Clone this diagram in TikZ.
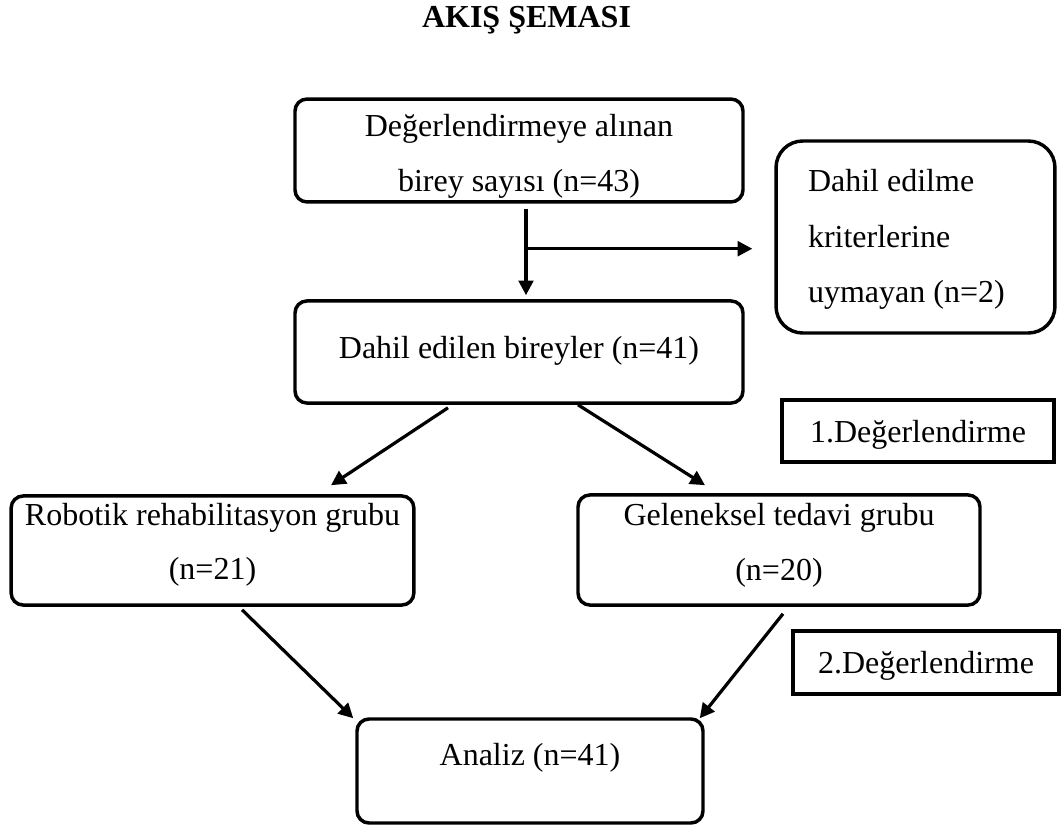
\documentclass[tikz,border=0pt]{standalone}
\usepackage{fontspec}
\setmainfont{Liberation Serif}
\usetikzlibrary{calc,arrows.meta}

\begin{document}
\begin{tikzpicture}[x=0.375pt,y=-0.375pt,
	box/.style={draw,line width=1.3pt,rounded corners=4.5pt,inner ysep=0pt,align=center,font=\fontsize{12pt}{20.6pt}\selectfont},
	evalbox/.style={draw,line width=1.3pt,inner ysep=0pt,font=\fontsize{12pt}{14pt}\selectfont},
	arr/.style={line width=1.2pt,-{Triangle[length=5.5pt,width=5.5pt]}}]
	\useasboundingbox (0,0) rectangle (1061,825);
	
	% title
	\node[anchor=base,font=\fontsize{12pt}{14pt}\selectfont\bfseries] (title) at (526.5,27) {AKIŞ ŞEMASI};
	
	% boxes
	\node[box,minimum width=168pt,text height=34.6pt,text depth=4pt] (alinan) at (519,150.5) {Değerlendirmeye alınan\\birey sayısı (n=43)};
	\node[box,minimum width=168pt,text height=21.4pt,text depth=16.9pt] (dahil) at (519,352) {Dahil edilen bireyler (n=41)};
	\node[box,rounded corners=10pt,inner xsep=12pt,text width=80.6pt,align=flush left,text height=19.1pt,text depth=52.9pt,font=\fontsize{12pt}{20.8pt}\selectfont] (haric) at (915.5,237) {Dahil edilme\\kriterlerine\\uymayan (n=2)};
	\node[evalbox,minimum width=102pt,text height=15.75pt,text depth=7.5pt] (deg1) at (918,431) {1.Değerlendirme};
	
	\node[box,minimum width=151pt,text height=31.5pt,text depth=9.4pt] (robotik) at (212.5,550.5) {Robotik rehabilitasyon grubu\\(n=21)};
	\node[box,minimum width=150.75pt,text height=31.9pt,text depth=9.4pt] (geleneksel) at (779,550) {Geleneksel tedavi grubu\\(n=20)};
	\node[evalbox,minimum width=99.75pt,text height=16.1pt,text depth=7.5pt] (deg2) at (926,662.5) {2.Değerlendirme};
	
	\node[box,minimum width=129.75pt,text height=17.6pt,text depth=21.4pt] (analiz) at (530,771) {Analiz (n=41)};
	
	% arrows
	\coordinate (split) at ($(alinan.south)+(7,45)$);
	\draw[arr] ($(alinan.south)+(7,5)$) -- ($(dahil.north)+(7,-4)$);
	\draw[arr] (split) -- ($(haric.west |- split)+(-22,0)$);
	
	\draw[arr] ($(dahil.south)+(-71,3)$) -- ($(robotik.north)+(118.5,-9)$);
	\draw[arr] ($(dahil.south)+(59,0)$) -- ($(geleneksel.north)+(-74,-8)$);
	
	\draw[arr] ($(robotik.south)+(29.5,3)$) -- ($(analiz.north west)+(-2,1)$);
	\draw[arr] ($(geleneksel.south)+(4,7)$) -- ($(analiz.north east)+(-5,1)$);
\end{tikzpicture}
\end{document}
